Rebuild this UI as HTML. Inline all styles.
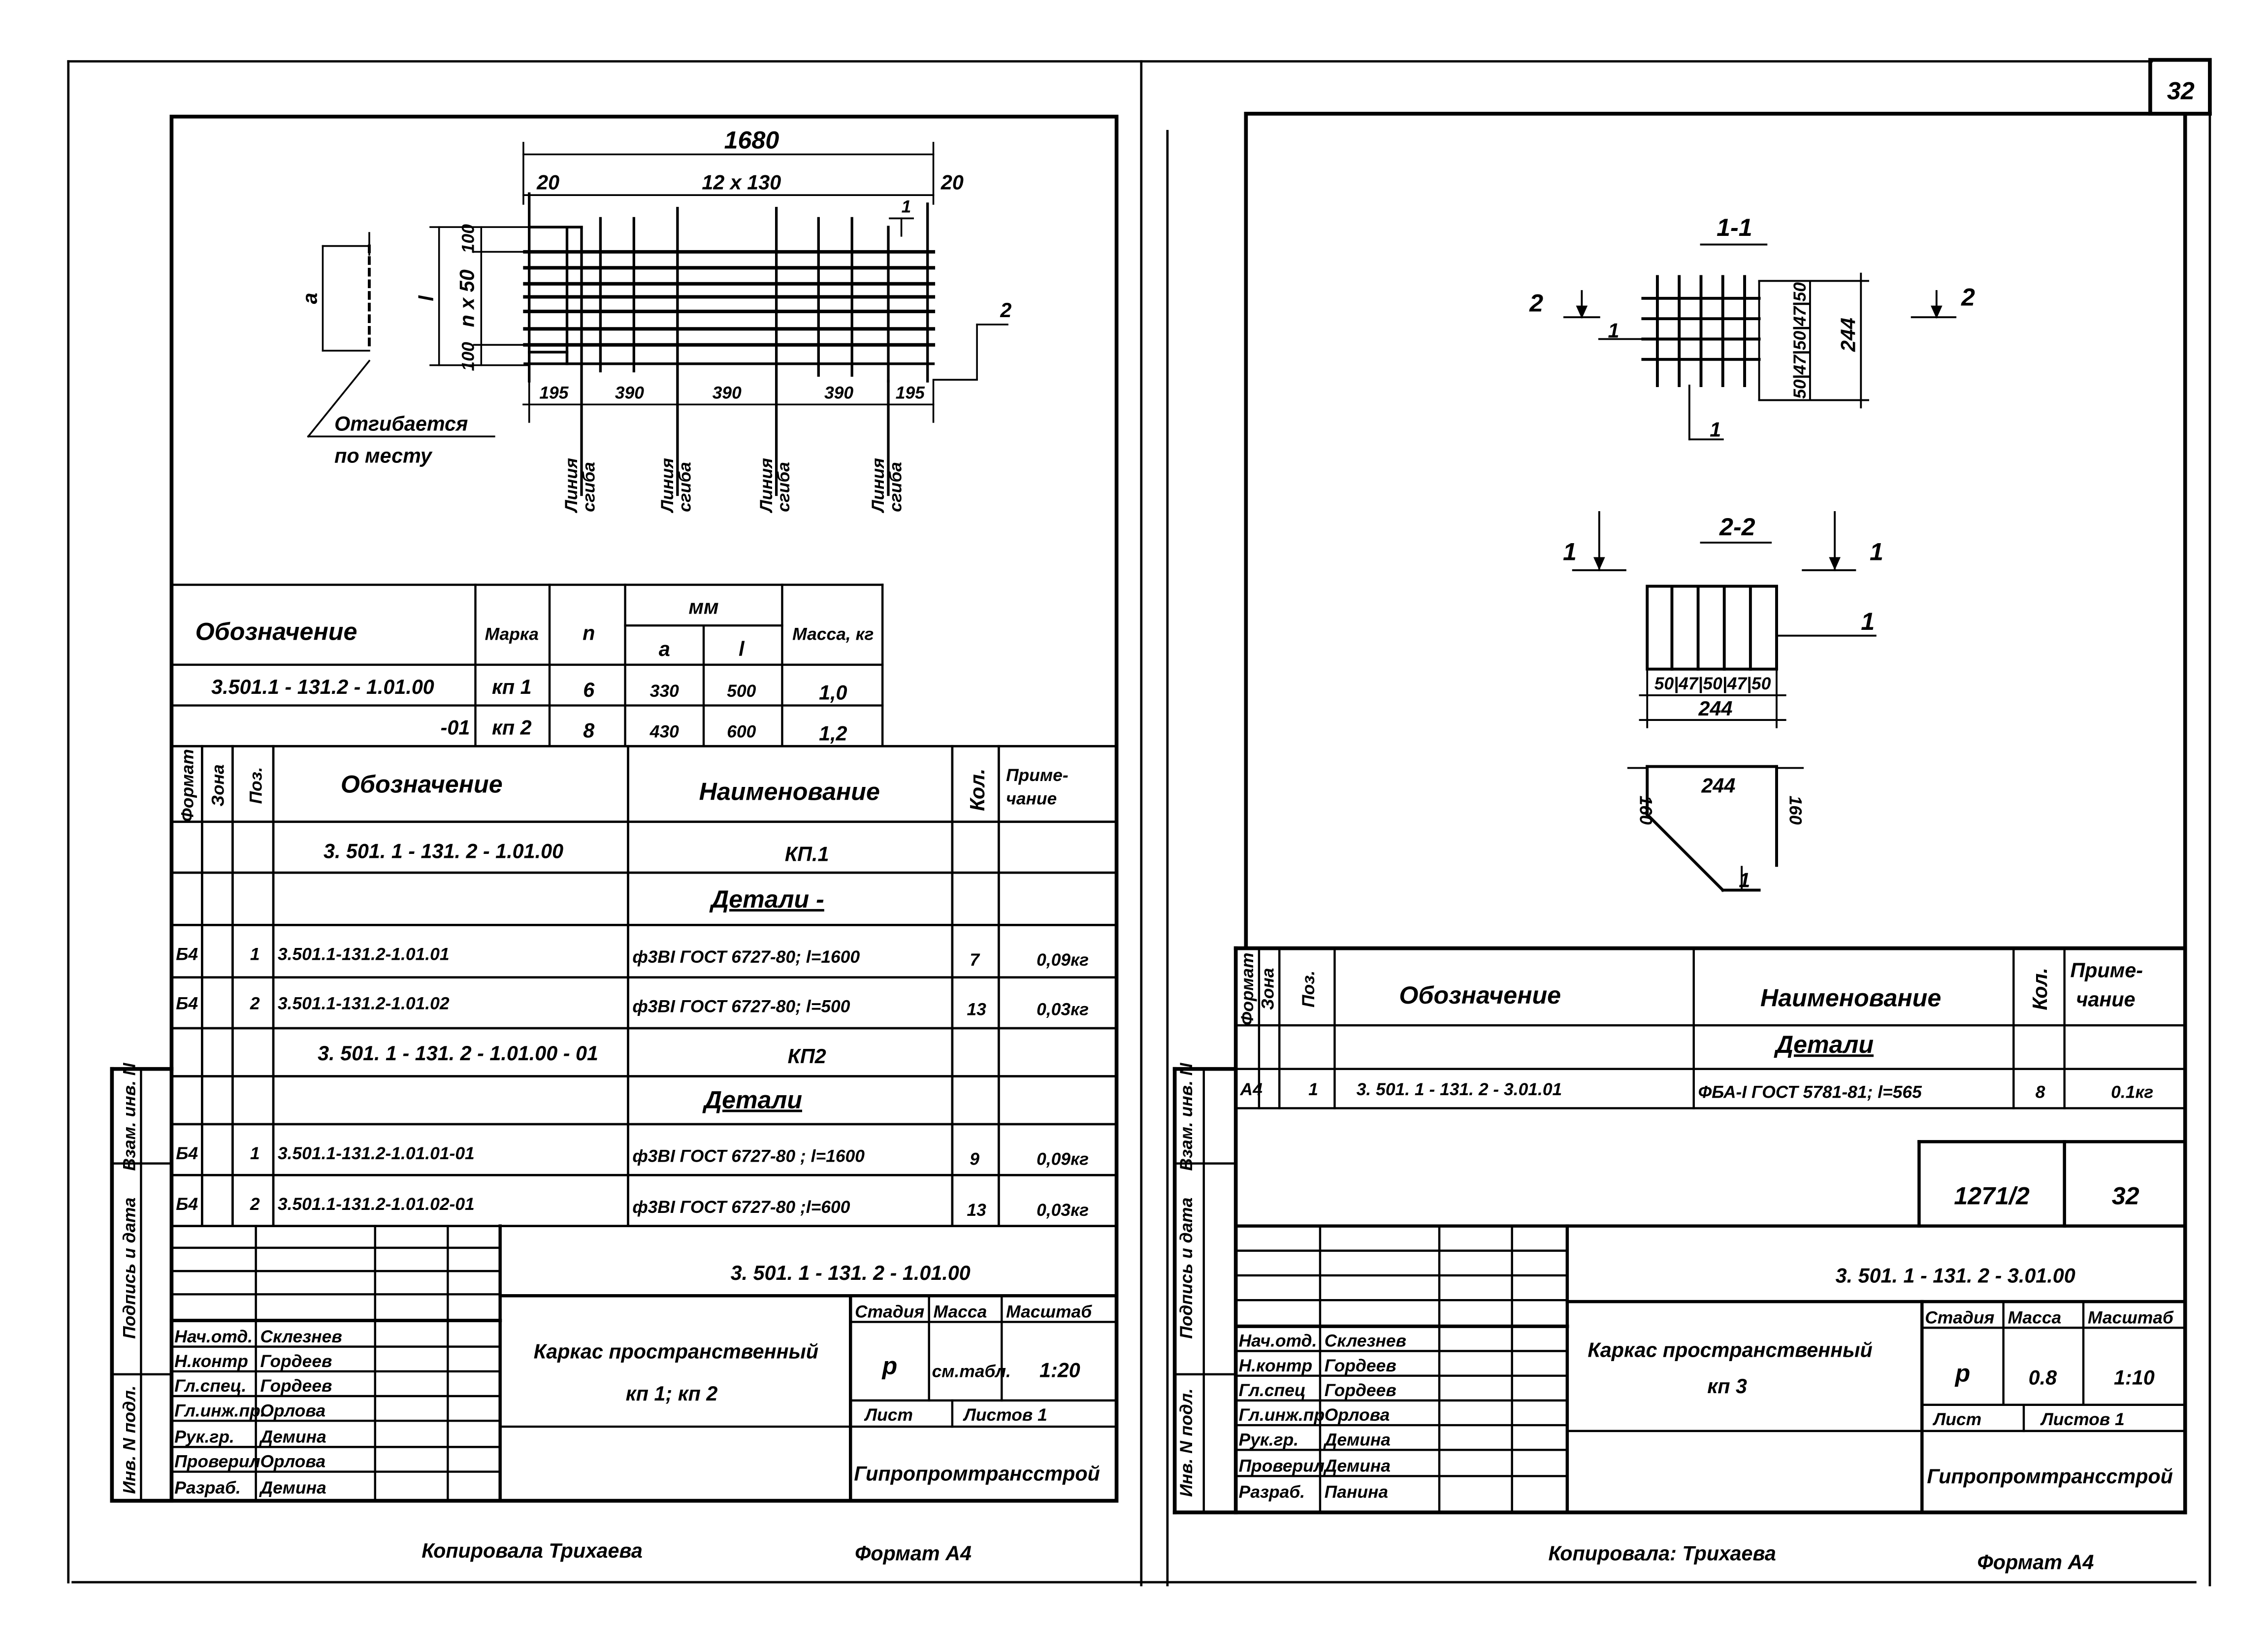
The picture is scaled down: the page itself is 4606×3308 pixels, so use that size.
<!DOCTYPE html>
<html><head><meta charset="utf-8">
<style>
html,body{margin:0;padding:0;background:#fff;}
svg{display:block;}
text{font-family:"Liberation Sans Narrow","Liberation Sans","DejaVu Sans",sans-serif;font-style:italic;font-weight:bold;fill:#000;}
.t{font-size:14px;}
.s{font-size:12px;}
.b{font-size:17px;}
.m{text-anchor:middle;}
</style></head>
<body>
<svg width="4606" height="3308" viewBox="0 0 1560 1120" xmlns="http://www.w3.org/2000/svg">
<g stroke="#000" fill="none" stroke-linecap="square">
<!-- outer lines -->
<g stroke-width="1.6">
<line x1="47" y1="42" x2="1480" y2="42"/>
<line x1="47" y1="42" x2="47" y2="1088"/>
<line x1="50" y1="1088" x2="1510" y2="1088"/>
<line x1="785" y1="42" x2="785" y2="1090"/>
<line x1="803" y1="90" x2="803" y2="1090"/>
<line x1="1520" y1="78" x2="1520" y2="1090"/>
</g>
<!-- LEFT SHEET frame -->
<g stroke-width="2.6">
<rect x="118" y="80" width="650" height="952"/>
<line x1="77" y1="735" x2="118" y2="735"/>
<line x1="77" y1="735" x2="77" y2="1032"/>
<line x1="77" y1="1032" x2="118" y2="1032"/>
</g>
<g stroke-width="1.5">
<line x1="97" y1="735" x2="97" y2="1032"/>
<line x1="77" y1="800" x2="118" y2="800"/>
<line x1="77" y1="945" x2="118" y2="945"/>
</g>
<!-- mesh drawing -->
<g stroke-width="2.4">
<line x1="361" y1="173" x2="642" y2="173"/>
<line x1="361" y1="184" x2="642" y2="184"/>
<line x1="361" y1="195" x2="642" y2="195"/>
<line x1="361" y1="204" x2="642" y2="204"/>
<line x1="361" y1="214" x2="642" y2="214"/>
<line x1="361" y1="226" x2="642" y2="226"/>
<line x1="361" y1="237" x2="642" y2="237"/>
</g>
<g stroke-width="1.8">
<line x1="361" y1="250" x2="642" y2="250"/>
<line x1="364" y1="133" x2="364" y2="262"/>
<line x1="390" y1="156" x2="390" y2="250"/>
<line x1="413" y1="150" x2="413" y2="255"/>
<line x1="436" y1="150" x2="436" y2="255"/>
<line x1="563" y1="150" x2="563" y2="258"/>
<line x1="586" y1="150" x2="586" y2="258"/>
<line x1="611" y1="156" x2="611" y2="262"/>
<line x1="638" y1="140" x2="638" y2="262"/>
<line x1="400" y1="156" x2="400" y2="340"/>
<line x1="466" y1="143" x2="466" y2="340"/>
<line x1="534" y1="143" x2="534" y2="340"/>
<line x1="611" y1="262" x2="611" y2="340"/>
<line x1="364" y1="156" x2="400" y2="156"/>
<line x1="364" y1="242" x2="390" y2="242"/>
<line x1="390" y1="242" x2="390" y2="250"/>
</g>
<g stroke-width="1.2">
<!-- dims top -->
<line x1="360" y1="106" x2="642" y2="106"/>
<line x1="360" y1="98" x2="360" y2="140"/>
<line x1="642" y1="98" x2="642" y2="140"/>
<line x1="360" y1="134" x2="642" y2="134"/>
<!-- bottom dim -->
<line x1="360" y1="278" x2="642" y2="278"/>
<line x1="364" y1="262" x2="364" y2="290"/>
<line x1="642" y1="262" x2="642" y2="290"/>
<!-- left dims -->
<line x1="302" y1="156" x2="302" y2="251"/>
<line x1="296" y1="156" x2="364" y2="156"/>
<line x1="296" y1="251" x2="364" y2="251"/>
<line x1="331" y1="156" x2="331" y2="251"/>
<line x1="326" y1="173" x2="361" y2="173"/>
<line x1="326" y1="237" x2="361" y2="237"/>
<!-- small rect a -->
<line x1="222" y1="169" x2="254" y2="169"/>
<line x1="222" y1="169" x2="222" y2="241"/>
<line x1="222" y1="241" x2="254" y2="241"/>
<line x1="254" y1="169" x2="254" y2="241" stroke-dasharray="4 4" stroke-width="2"/>
<line x1="254" y1="160" x2="254" y2="175"/>
<!-- leader -->
<line x1="254" y1="248" x2="212" y2="300"/>
<line x1="212" y1="300" x2="340" y2="300"/>
<!-- marker 2 -->
<line x1="642" y1="261" x2="672" y2="261"/>
<line x1="672" y1="261" x2="672" y2="223"/>
<line x1="672" y1="223" x2="693" y2="223"/>
<!-- marker 1 top -->
<line x1="620" y1="150" x2="620" y2="162"/>
<line x1="612" y1="150" x2="628" y2="150"/>
</g>
<!-- table 1 -->
<g stroke-width="1.5">
<line x1="118" y1="402" x2="607" y2="402"/>
<line x1="118" y1="457" x2="607" y2="457"/>
<line x1="118" y1="485" x2="607" y2="485"/>
<line x1="430" y1="430" x2="538" y2="430"/>
<line x1="327" y1="402" x2="327" y2="513"/>
<line x1="378" y1="402" x2="378" y2="513"/>
<line x1="430" y1="402" x2="430" y2="513"/>
<line x1="484" y1="430" x2="484" y2="513"/>
<line x1="538" y1="402" x2="538" y2="513"/>
<line x1="607" y1="402" x2="607" y2="513"/>
</g>
<!-- spec table left -->
<g stroke-width="1.6">
<line x1="118" y1="513" x2="768" y2="513"/>
<line x1="118" y1="565" x2="768" y2="565"/>
<line x1="118" y1="600" x2="768" y2="600"/>
<line x1="118" y1="636" x2="768" y2="636"/>
<line x1="118" y1="672" x2="768" y2="672"/>
<line x1="118" y1="707" x2="768" y2="707"/>
<line x1="118" y1="740" x2="768" y2="740"/>
<line x1="118" y1="773" x2="768" y2="773"/>
<line x1="118" y1="808" x2="768" y2="808"/>
<line x1="118" y1="843" x2="768" y2="843"/>
<line x1="139" y1="513" x2="139" y2="843"/>
<line x1="160" y1="513" x2="160" y2="843"/>
<line x1="188" y1="513" x2="188" y2="843"/>
<line x1="432" y1="513" x2="432" y2="843"/>
<line x1="655" y1="513" x2="655" y2="843"/>
<line x1="687" y1="513" x2="687" y2="843"/>
</g>
<!-- title block left -->
<g stroke-width="1.5">
<line x1="118" y1="858" x2="344" y2="858"/>
<line x1="118" y1="874" x2="344" y2="874"/>
<line x1="118" y1="890" x2="344" y2="890"/>
<line x1="118" y1="908" x2="344" y2="908" stroke-width="2.4"/>
<line x1="118" y1="926" x2="344" y2="926"/>
<line x1="118" y1="943" x2="344" y2="943"/>
<line x1="118" y1="960" x2="344" y2="960"/>
<line x1="118" y1="977" x2="344" y2="977"/>
<line x1="118" y1="995" x2="344" y2="995"/>
<line x1="118" y1="1012" x2="344" y2="1012"/>
<line x1="176" y1="843" x2="176" y2="1032"/>
<line x1="258" y1="843" x2="258" y2="1032"/>
<line x1="308" y1="843" x2="308" y2="1032"/>
<line x1="344" y1="843" x2="344" y2="1032" stroke-width="2.2"/>
<line x1="344" y1="891" x2="768" y2="891" stroke-width="2.2"/>
<line x1="585" y1="891" x2="585" y2="1032" stroke-width="2.2"/>
<line x1="585" y1="909" x2="768" y2="909"/>
<line x1="585" y1="963" x2="768" y2="963"/>
<line x1="585" y1="981" x2="768" y2="981"/>
<line x1="344" y1="981" x2="585" y2="981"/>
<line x1="639" y1="891" x2="639" y2="963"/>
<line x1="689" y1="891" x2="689" y2="963"/>
<line x1="655" y1="963" x2="655" y2="981"/>
</g>

<!-- RIGHT SHEET -->
<g stroke-width="2.6">
<line x1="857" y1="78" x2="1520" y2="78"/>
<line x1="857" y1="78" x2="857" y2="652"/>
<rect x="1479" y="41" width="41" height="37"/>
<line x1="1503" y1="78" x2="1503" y2="1040"/>
<line x1="850" y1="652" x2="1503" y2="652"/>
<line x1="850" y1="652" x2="850" y2="1040"/>
<line x1="808" y1="1040" x2="1503" y2="1040"/>
<line x1="808" y1="735" x2="850" y2="735"/>
<line x1="808" y1="735" x2="808" y2="1040"/>
</g>
<g stroke-width="1.5">
<line x1="828" y1="735" x2="828" y2="1040"/>
<line x1="808" y1="800" x2="850" y2="800"/>
<line x1="808" y1="945" x2="850" y2="945"/>
<!-- spec table right -->
<line x1="850" y1="705" x2="1503" y2="705"/>
<line x1="850" y1="735" x2="1503" y2="735"/>
<line x1="850" y1="762" x2="1503" y2="762"/>
<line x1="866" y1="652" x2="866" y2="762"/>
<line x1="880" y1="652" x2="880" y2="762"/>
<line x1="918" y1="652" x2="918" y2="762"/>
<line x1="1165" y1="652" x2="1165" y2="762"/>
<line x1="1385" y1="652" x2="1385" y2="762"/>
<line x1="1420" y1="652" x2="1420" y2="762"/>
<!-- 1271/2 box -->
<line x1="1320" y1="785" x2="1503" y2="785" stroke-width="2.2"/>
<line x1="1320" y1="785" x2="1320" y2="843" stroke-width="2.2"/>
<line x1="1420" y1="785" x2="1420" y2="843" stroke-width="2.2"/>
<line x1="850" y1="843" x2="1503" y2="843" stroke-width="2.2"/>
<!-- title block right -->
<line x1="850" y1="860" x2="1078" y2="860"/>
<line x1="850" y1="877" x2="1078" y2="877"/>
<line x1="850" y1="894" x2="1078" y2="894"/>
<line x1="850" y1="912" x2="1078" y2="912" stroke-width="2.4"/>
<line x1="850" y1="929" x2="1078" y2="929"/>
<line x1="850" y1="946" x2="1078" y2="946"/>
<line x1="850" y1="963" x2="1078" y2="963"/>
<line x1="850" y1="980" x2="1078" y2="980"/>
<line x1="850" y1="997" x2="1078" y2="997"/>
<line x1="850" y1="1015" x2="1078" y2="1015"/>
<line x1="908" y1="843" x2="908" y2="1040"/>
<line x1="990" y1="843" x2="990" y2="1040"/>
<line x1="1040" y1="843" x2="1040" y2="1040"/>
<line x1="1078" y1="843" x2="1078" y2="1040" stroke-width="2.2"/>
<line x1="1078" y1="895" x2="1503" y2="895" stroke-width="2.2"/>
<line x1="1322" y1="895" x2="1322" y2="1040" stroke-width="2.2"/>
<line x1="1322" y1="913" x2="1503" y2="913"/>
<line x1="1322" y1="966" x2="1503" y2="966"/>
<line x1="1322" y1="984" x2="1503" y2="984"/>
<line x1="1078" y1="984" x2="1322" y2="984"/>
<line x1="1378" y1="895" x2="1378" y2="966"/>
<line x1="1433" y1="895" x2="1433" y2="966"/>
<line x1="1392" y1="966" x2="1392" y2="984"/>
</g>
<!-- section 1-1 -->
<g stroke-width="2">
<line x1="1140" y1="190" x2="1140" y2="265"/>
<line x1="1155" y1="190" x2="1155" y2="265"/>
<line x1="1170" y1="190" x2="1170" y2="265"/>
<line x1="1185" y1="190" x2="1185" y2="265"/>
<line x1="1200" y1="190" x2="1200" y2="265"/>
<line x1="1130" y1="205" x2="1210" y2="205"/>
<line x1="1130" y1="219" x2="1210" y2="219"/>
<line x1="1130" y1="233" x2="1210" y2="233"/>
<line x1="1130" y1="247" x2="1210" y2="247"/>
</g>
<g stroke-width="1.3">
<line x1="1210" y1="193" x2="1285" y2="193"/>
<line x1="1210" y1="275" x2="1285" y2="275"/>
<line x1="1210" y1="193" x2="1210" y2="275"/>
<line x1="1245" y1="193" x2="1245" y2="275"/>
<line x1="1280" y1="188" x2="1280" y2="280"/>
<line x1="1076" y1="218" x2="1100" y2="218"/>
<line x1="1088" y1="200" x2="1088" y2="218"/>
<line x1="1315" y1="218" x2="1345" y2="218"/>
<line x1="1332" y1="200" x2="1332" y2="218"/>
<line x1="1100" y1="233" x2="1140" y2="233"/>
<line x1="1162" y1="265" x2="1162" y2="302"/>
<line x1="1162" y1="302" x2="1185" y2="302"/>
<line x1="1170" y1="168" x2="1215" y2="168"/>
<!-- 2-2 -->
<line x1="1170" y1="373" x2="1218" y2="373"/>
<line x1="1082" y1="392" x2="1118" y2="392"/>
<line x1="1100" y1="352" x2="1100" y2="392"/>
<line x1="1240" y1="392" x2="1276" y2="392"/>
<line x1="1262" y1="352" x2="1262" y2="392"/>
<line x1="1222" y1="437" x2="1290" y2="437"/>
<line x1="1128" y1="478" x2="1228" y2="478"/>
<line x1="1128" y1="495" x2="1228" y2="495"/>
<line x1="1133" y1="460" x2="1133" y2="500"/>
<line x1="1222" y1="460" x2="1222" y2="500"/>
<!-- third -->
<line x1="1120" y1="528" x2="1133" y2="528"/>
<line x1="1222" y1="528" x2="1240" y2="528"/>
<line x1="1198" y1="612" x2="1198" y2="596"/>
</g>
<g stroke-width="2">
<rect x="1133" y="403" width="89" height="57"/>
<line x1="1150" y1="403" x2="1150" y2="460"/>
<line x1="1168" y1="403" x2="1168" y2="460"/>
<line x1="1186" y1="403" x2="1186" y2="460"/>
<line x1="1204" y1="403" x2="1204" y2="460"/>
<line x1="1133" y1="527" x2="1222" y2="527"/>
<line x1="1133" y1="527" x2="1133" y2="560"/>
<line x1="1133" y1="560" x2="1185" y2="612"/>
<line x1="1185" y1="612" x2="1210" y2="612"/>
<line x1="1222" y1="527" x2="1222" y2="595"/>
</g>
</g>

<!-- arrowheads -->
<g fill="#000">
<polygon points="1084,210 1092,210 1088,219"/>
<polygon points="1328,210 1336,210 1332,219"/>
<polygon points="1096,383 1104,383 1100,392"/>
<polygon points="1258,383 1266,383 1262,392"/>
</g>

<!-- LEFT TEXTS -->
<text class="b m" x="517" y="102">1680</text>
<text class="t m" x="377" y="130">20</text>
<text class="t m" x="510" y="130">12 x 130</text>
<text class="t m" x="655" y="130">20</text>
<text class="s m" x="381" y="274">195</text>
<text class="s m" x="433" y="274">390</text>
<text class="s m" x="500" y="274">390</text>
<text class="s m" x="577" y="274">390</text>
<text class="s m" x="626" y="274">195</text>
<text class="t" x="688" y="218">2</text>
<text class="s" x="620" y="146">1</text>
<text class="s m" transform="translate(326,164) rotate(-90)">100</text>
<text class="t m" transform="translate(326,205) rotate(-90)">n x 50</text>
<text class="s m" transform="translate(326,245) rotate(-90)">100</text>
<text class="t m" transform="translate(298,205) rotate(-90)">l</text>
<text class="t m" transform="translate(218,205) rotate(-90)">a</text>
<text class="t" x="230" y="296">Отгибается</text>
<text class="t" x="230" y="318">по  месту</text>
<g class="s">
<text transform="translate(397,352) rotate(-90)">Линия</text>
<text transform="translate(409,352) rotate(-90)">сгиба</text>
<text transform="translate(463,352) rotate(-90)">Линия</text>
<text transform="translate(475,352) rotate(-90)">сгиба</text>
<text transform="translate(531,352) rotate(-90)">Линия</text>
<text transform="translate(543,352) rotate(-90)">сгиба</text>
<text transform="translate(608,352) rotate(-90)">Линия</text>
<text transform="translate(620,352) rotate(-90)">сгиба</text>
</g>
<!-- table1 -->
<text class="b m" x="190" y="440">Обозначение</text>
<text class="s m" x="352" y="440">Марка</text>
<text class="t m" x="405" y="440">n</text>
<text class="t m" x="484" y="422">мм</text>
<text class="t m" x="457" y="451">a</text>
<text class="t m" x="510" y="451">l</text>
<text class="s m" x="573" y="440">Масса, кг</text>
<text class="t m" x="222" y="477">3.501.1 - 131.2 - 1.01.00</text>
<text class="t m" x="352" y="477">кп 1</text>
<text class="t m" x="405" y="479">6</text>
<text class="s m" x="457" y="479">330</text>
<text class="s m" x="510" y="479">500</text>
<text class="t m" x="573" y="481">1,0</text>
<text class="t" x="303" y="505">-01</text>
<text class="t m" x="352" y="505">кп 2</text>
<text class="t m" x="405" y="507">8</text>
<text class="s m" x="457" y="507">430</text>
<text class="s m" x="510" y="507">600</text>
<text class="t m" x="573" y="509">1,2</text>
<!-- spec left header -->
<text class="s m" transform="translate(133,540) rotate(-90)">Формат</text>
<text class="s m" transform="translate(154,540) rotate(-90)">Зона</text>
<text class="s m" transform="translate(180,540) rotate(-90)">Поз.</text>
<text class="b m" x="290" y="545">Обозначение</text>
<text class="b m" x="543" y="550">Наименование</text>
<text class="t m" transform="translate(677,543) rotate(-90)">Кол.</text>
<text class="s" x="692" y="537">Приме-</text>
<text class="s" x="692" y="553">чание</text>
<text class="t m" x="305" y="590">3. 501. 1 - 131. 2 - 1.01.00</text>
<text class="t m" x="555" y="592">КП.1</text>
<text class="b m" x="528" y="624" text-decoration="underline">Детали  -</text>
<g class="s">
<text x="121" y="660">Б4</text><text x="172" y="660">1</text>
<text x="191" y="660">3.501.1-131.2-1.01.01</text>
<text x="435" y="662">ф3ВI ГОСТ 6727-80; l=1600</text>
<text x="667" y="664">7</text><text x="713" y="664">0,09кг</text>
<text x="121" y="694">Б4</text><text x="172" y="694">2</text>
<text x="191" y="694">3.501.1-131.2-1.01.02</text>
<text x="435" y="696">ф3ВI ГОСТ 6727-80; l=500</text>
<text x="665" y="698">13</text><text x="713" y="698">0,03кг</text>
<text x="121" y="797">Б4</text><text x="172" y="797">1</text>
<text x="191" y="797">3.501.1-131.2-1.01.01-01</text>
<text x="435" y="799">ф3ВI ГОСТ 6727-80 ; l=1600</text>
<text x="667" y="801">9</text><text x="713" y="801">0,09кг</text>
<text x="121" y="832">Б4</text><text x="172" y="832">2</text>
<text x="191" y="832">3.501.1-131.2-1.01.02-01</text>
<text x="435" y="834">ф3ВI ГОСТ 6727-80  ;l=600</text>
<text x="665" y="836">13</text><text x="713" y="836">0,03кг</text>
</g>
<text class="t m" x="315" y="729">3. 501. 1 - 131. 2 - 1.01.00 - 01</text>
<text class="t m" x="555" y="731">КП2</text>
<text class="b m" x="518" y="762" text-decoration="underline">Детали</text>
<!-- left strip -->
<text class="s m" transform="translate(93,768) rotate(-90)">Взам. инв. N</text>
<text class="s m" transform="translate(93,872) rotate(-90)">Подпись и дата</text>
<text class="s m" transform="translate(93,990) rotate(-90)">Инв. N подл.</text>
<!-- title left -->
<text class="t m" x="585" y="880">3. 501. 1 - 131. 2 - 1.01.00</text>
<g class="s">
<text x="120" y="923">Нач.отд.</text><text x="179" y="923">Склезнев</text>
<text x="120" y="940">Н.контр</text><text x="179" y="940">Гордеев</text>
<text x="120" y="957">Гл.спец.</text><text x="179" y="957">Гордеев</text>
<text x="120" y="974">Гл.инж.пр.</text><text x="179" y="974">Орлова</text>
<text x="120" y="992">Рук.гр.</text><text x="179" y="992">Демина</text>
<text x="120" y="1009">Проверил</text><text x="179" y="1009">Орлова</text>
<text x="120" y="1027">Разраб.</text><text x="179" y="1027">Демина</text>
<text x="588" y="906">Стадия</text><text x="642" y="906">Масса</text><text x="692" y="906">Масштаб</text>
<text x="595" y="977">Лист</text><text x="663" y="977">Листов  1</text>
<text x="641" y="947">см.табл.</text>
</g>
<text class="t m" x="465" y="934">Каркас  пространственный</text>
<text class="t m" x="462" y="963">кп 1;  кп 2</text>
<text class="b m" x="612" y="945">р</text>
<text class="t m" x="729" y="947">1:20</text>
<text class="t m" x="672" y="1018">Гипропромтрансстрой</text>
<text class="t" x="290" y="1071">Копировала  Трихаева</text>
<text class="t" x="588" y="1073">Формат  А4</text>

<!-- RIGHT TEXTS -->
<text class="b m" x="1500" y="68">32</text>
<text class="b m" x="1193" y="162">1-1</text>
<text class="b" x="1052" y="214">2</text>
<text class="b" x="1349" y="210">2</text>
<text class="t" x="1106" y="232">1</text>
<text class="t" x="1176" y="300">1</text>
<text class="s m" transform="translate(1242,234) rotate(-90)">50|47|50|47|50</text>
<text class="t m" transform="translate(1276,230) rotate(-90)">244</text>
<text class="b m" x="1195" y="368">2-2</text>
<text class="b" x="1075" y="385">1</text>
<text class="b" x="1286" y="385">1</text>
<text class="b" x="1280" y="433">1</text>
<text class="s m" x="1178" y="474">50|47|50|47|50</text>
<text class="t m" x="1180" y="492">244</text>
<text class="t m" x="1182" y="545">244</text>
<text class="s m" transform="translate(1128,557) rotate(90)">160</text>
<text class="s m" transform="translate(1231,557) rotate(90)">160</text>
<text class="t" x="1196" y="610">1</text>
<!-- right spec -->
<text class="s m" transform="translate(862,680) rotate(-90)">Формат</text>
<text class="s m" transform="translate(876,680) rotate(-90)">Зона</text>
<text class="s m" transform="translate(904,680) rotate(-90)">Поз.</text>
<text class="b m" x="1018" y="690">Обозначение</text>
<text class="b m" x="1273" y="692">Наименование</text>
<text class="t m" transform="translate(1408,680) rotate(-90)">Кол.</text>
<text class="t" x="1424" y="672">Приме-</text>
<text class="t" x="1428" y="692">чание</text>
<text class="b m" x="1255" y="724" text-decoration="underline">Детали</text>
<g class="s">
<text x="853" y="753">А4</text><text x="900" y="753">1</text>
<text x="933" y="753">3. 501. 1 - 131. 2 - 3.01.01</text>
<text x="1168" y="755">ФБА-I ГОСТ 5781-81; l=565</text>
<text x="1400" y="755">8</text><text x="1452" y="755">0.1кг</text>
</g>
<text class="b m" x="1370" y="828">1271/2</text>
<text class="b m" x="1462" y="828">32</text>
<text class="t m" x="1345" y="882">3. 501. 1 - 131. 2 - 3.01.00</text>
<g class="s">
<text x="852" y="926">Нач.отд.</text><text x="911" y="926">Склезнев</text>
<text x="852" y="943">Н.контр</text><text x="911" y="943">Гордеев</text>
<text x="852" y="960">Гл.спец</text><text x="911" y="960">Гордеев</text>
<text x="852" y="977">Гл.инж.пр</text><text x="911" y="977">Орлова</text>
<text x="852" y="994">Рук.гр.</text><text x="911" y="994">Демина</text>
<text x="852" y="1012">Проверил</text><text x="911" y="1012">Демина</text>
<text x="852" y="1030">Разраб.</text><text x="911" y="1030">Панина</text>
<text x="1324" y="910">Стадия</text><text x="1381" y="910">Масса</text><text x="1436" y="910">Масштаб</text>
<text x="1330" y="980">Лист</text><text x="1404" y="980">Листов  1</text>
</g>
<text class="s m" transform="translate(820,768) rotate(-90)">Взам. инв. N</text>
<text class="s m" transform="translate(820,872) rotate(-90)">Подпись и дата</text>
<text class="s m" transform="translate(820,992) rotate(-90)">Инв. N подл.</text>
<text class="t m" x="1190" y="933">Каркас  пространственный</text>
<text class="t m" x="1188" y="958">кп 3</text>
<text class="b m" x="1350" y="950">р</text>
<text class="t m" x="1405" y="952">0.8</text>
<text class="t m" x="1468" y="952">1:10</text>
<text class="t m" x="1410" y="1020">Гипропромтрансстрой</text>
<text class="t" x="1065" y="1073">Копировала: Трихаева</text>
<text class="t" x="1360" y="1079">Формат  А4</text>
</svg>
</body></html>
